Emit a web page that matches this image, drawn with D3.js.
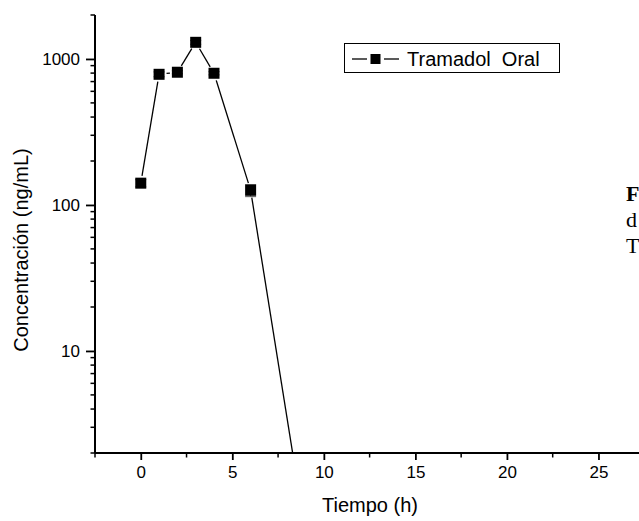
<!DOCTYPE html>
<html><head><meta charset="utf-8">
<script src="https://cdn.jsdelivr.net/npm/d3@7"></script>
<style>body{margin:0;background:#fff}svg{display:block}</style>
</head><body>
<script>
// Data
const timeH = [0, 1, 2, 3, 4, 6, 12];
const concOral = [141, 785, 811, 1300, 798, 126, 0.0025];
const concErr = [8, 30, 20, 40, 20, 12, 0];
const xTickValues = [0, 5, 10, 15, 20, 25];
const yTickValues = [10, 100, 1000];
const seriesName = "Tramadol  Oral";
const xTitle = "Tiempo (h)";
const yTitle = "Concentración (ng/mL)";
const captionLines = ["F", "d", "T"];

const W = 639, H = 521;
const svg = d3.select("body").append("svg").attr("width", W).attr("height", H);

const x = d3.scaleLinear().domain([-2.5, 30]).range([95, 690]);
const y = d3.scaleLog().domain([2, 2000]).range([453, 15]);

svg.append("defs").append("clipPath").attr("id", "plot")
  .append("rect").attr("x", 95).attr("y", 15).attr("width", 600).attr("height", 438);

// minor ticks
const xMinor = d3.range(-2.5, 30.1, 2.5).filter(v => Math.abs(v % 5) > 0.01);
svg.append("g").selectAll("line").data(xMinor).join("line")
  .attr("x1", d => x(d)).attr("x2", d => x(d)).attr("y1", 453).attr("y2", 457.5)
  .attr("stroke", "#000").attr("stroke-width", 1.5);
const yMinor = [];
[1, 10, 100, 1000].forEach(dec => { for (let k = 2; k <= 9; k++) { const v = dec * k; if (v >= 2 && v <= 2000) yMinor.push(v); } });
svg.append("g").selectAll("line").data(yMinor).join("line")
  .attr("x1", 95).attr("x2", 90.5).attr("y1", d => y(d)).attr("y2", d => y(d))
  .attr("stroke", "#000").attr("stroke-width", 1.5);

// axes
const xAxis = d3.axisBottom(x).tickValues(xTickValues).tickSize(7).tickPadding(6).tickFormat(d3.format("d"));
const gx = svg.append("g").attr("transform", "translate(0,453)").call(xAxis);
gx.select(".domain").attr("stroke-width", 2).attr("d", "M95,0H700");
gx.selectAll(".tick line").attr("stroke-width", 1.8);
gx.selectAll("text").attr("font-family", "Arial, 'Liberation Sans', sans-serif").attr("font-size", 17).attr("fill", "#000");

const yAxis = d3.axisLeft(y).tickValues(yTickValues).tickSize(9).tickPadding(6).tickFormat(d3.format("d"));
const gy = svg.append("g").attr("transform", "translate(95,0)").call(yAxis);
gy.select(".domain").attr("stroke-width", 2).attr("d", "M0,15V453");
gy.selectAll(".tick line").attr("stroke-width", 1.8);
gy.selectAll("text").attr("font-family", "Arial, 'Liberation Sans', sans-serif").attr("font-size", 17).attr("fill", "#000");

// titles
svg.append("text").attr("x", 370).attr("y", 512).attr("text-anchor", "middle")
  .attr("font-family", "Arial, 'Liberation Sans', sans-serif").attr("font-size", 20).text(xTitle);
svg.append("text").attr("transform", "translate(28,250) rotate(-90)").attr("text-anchor", "middle")
  .attr("font-family", "Arial, 'Liberation Sans', sans-serif").attr("font-size", 20).text(yTitle);

// data line with gaps around markers
const pts = timeH.map((t, i) => [x(t), y(concOral[i])]);
const gap = 7.5;
const plot = svg.append("g").attr("clip-path", "url(#plot)");
for (let i = 0; i < pts.length - 1; i++) {
  const [x0, y0] = pts[i], [x1, y1] = pts[i + 1];
  const dx = x1 - x0, dy = y1 - y0, L = Math.hypot(dx, dy);
  const g2 = (i + 1 === pts.length - 1) ? 0 : gap;
  if (L <= gap + g2) continue;
  plot.append("line")
    .attr("x1", x0 + dx / L * gap).attr("y1", y0 + dy / L * gap)
    .attr("x2", x1 - dx / L * g2).attr("y2", y1 - dy / L * g2)
    .attr("stroke", "#000").attr("stroke-width", 1.3);
}
// error bars
const ms = 11;
plot.selectAll(".err").data(timeH.map((t, i) => ({t, v: concOral[i], e: concErr[i]})).filter(d => d.e > 0))
  .join("path").attr("class", "err")
  .attr("d", d => {
    const cx = x(d.t), yt = y(d.v + d.e), yb = y(d.v - d.e);
    return `M${cx - ms/2},${yt}H${cx + ms/2}M${cx},${yt}V${yb}M${cx - ms/2},${yb}H${cx + ms/2}`;
  })
  .attr("stroke", "#555").attr("stroke-width", 1).attr("fill", "none");
// markers
plot.selectAll(".mk").data(timeH.map((t, i) => ({t, v: concOral[i]}))).join("rect").attr("class", "mk")
  .attr("x", d => x(d.t) - ms / 2).attr("y", d => y(d.v) - ms / 2)
  .attr("width", ms).attr("height", ms).attr("fill", "#000");

// legend
const lg = svg.append("g");
lg.append("rect").attr("x", 344.5).attr("y", 43.5).attr("width", 215).attr("height", 29)
  .attr("fill", "#fff").attr("stroke", "#000").attr("stroke-width", 1);
lg.append("line").attr("x1", 352).attr("x2", 367).attr("y1", 59).attr("y2", 59).attr("stroke", "#000").attr("stroke-width", 1.3);
lg.append("line").attr("x1", 384).attr("x2", 399).attr("y1", 59).attr("y2", 59).attr("stroke", "#000").attr("stroke-width", 1.3);
lg.append("rect").attr("x", 370.5).attr("y", 54).attr("width", 10).attr("height", 10).attr("fill", "#000");
lg.append("text").attr("x", 407).attr("y", 66).attr("font-family", "Arial, 'Liberation Sans', sans-serif")
  .attr("font-size", 20).attr("xml:space", "preserve").style("white-space", "pre").text(seriesName);

// caption fragments on the right
svg.append("g").selectAll("text").data(captionLines).join("text")
  .attr("x", 626).attr("y", (d, i) => 201 + i * 26)
  .attr("font-family", "'Liberation Serif', 'Times New Roman', serif").attr("font-size", 22)
  .attr("font-weight", (d, i) => i === 0 ? "bold" : "normal").text(d => d);
</script>
</body></html>
